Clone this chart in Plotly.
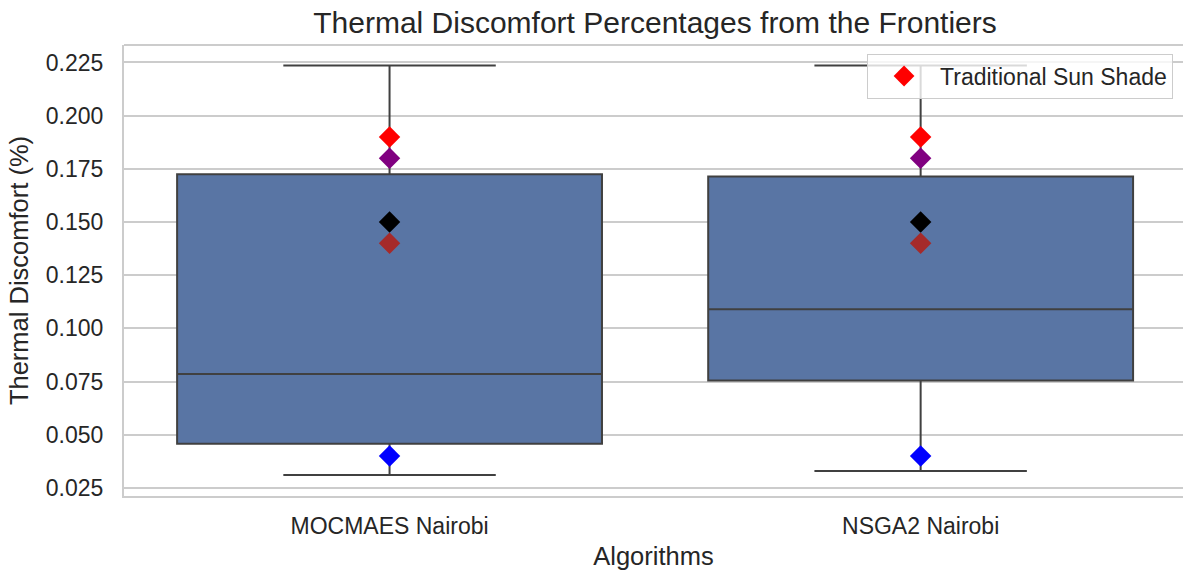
import plotly.graph_objects as go

categories = ["MOCMAES Nairobi", "NSGA2 Nairobi"]
q1 = [0.0458, 0.0755]
median = [0.0785, 0.1090]
q3 = [0.1725, 0.1714]
lower_fence = [0.0311, 0.0330]
upper_fence = [0.2236, 0.2236]

marker_names = ["Traditional Sun Shade", "Solution B", "Solution C", "Solution D", "Solution E"]
marker_values = [0.19, 0.18, 0.15, 0.14, 0.04]
marker_colors = ["red", "purple", "black", "brown", "blue"]
marker_in_legend = [True, False, False, False, False]

y_ticks = [0.025, 0.05, 0.075, 0.1, 0.125, 0.15, 0.175, 0.2, 0.225]

fig = go.Figure()
for i, cat in enumerate(categories):
    fig.add_trace(go.Box(
        x=[cat], q1=[q1[i]], median=[median[i]], q3=[q3[i]],
        lowerfence=[lower_fence[i]], upperfence=[upper_fence[i]],
        fillcolor="#5975a4", line=dict(color="#404040", width=2),
        width=0.8, whiskerwidth=0.5, boxpoints=False, showlegend=False,
        hoverinfo="skip",
    ))

for name, val, col, leg in zip(marker_names, marker_values, marker_colors, marker_in_legend):
    fig.add_trace(go.Scatter(
        x=categories, y=[val] * len(categories), mode="markers",
        marker=dict(symbol="diamond", size=16.5, color=col, line=dict(width=0)),
        name=name, showlegend=leg,
    ))

font_family = "Liberation Sans, Arial, sans-serif"
fig.update_layout(
    width=1183, height=574,
    margin=dict(l=124, r=0, t=45, b=78),
    paper_bgcolor="white", plot_bgcolor="white",
    font=dict(family=font_family, color="#262626", size=23),
    title=dict(text="Thermal Discomfort Percentages from the Frontiers",
               x=(124 + 1186) / 2 / 1183, xanchor="center", y=1 - 22 / 574, yanchor="middle",
               font=dict(size=30, color="#262626")),
    xaxis=dict(
        type="category", range=[-0.5, 1.494],
        title=dict(text="Algorithms", font=dict(size=25.5), standoff=10),
        showgrid=False, showline=True, linecolor="#cccccc", linewidth=2, mirror=False,
        ticks="", tickfont=dict(size=23), ticklabelstandoff=8,
    ),
    yaxis=dict(
        range=[0.0212, 0.2332], tickvals=y_ticks, tickformat=".3f",
        title=dict(text="Thermal Discomfort (%)", font=dict(size=25.5), standoff=10),
        showgrid=True, gridcolor="#cccccc", gridwidth=1.5,
        showline=True, linecolor="#cccccc", linewidth=2, mirror=False,
        zeroline=False, ticks="", tickfont=dict(size=23), ticklabelstandoff=14,
    ),
    legend=dict(
        x=0.9906, xanchor="right", y=0.981, yanchor="top",
        bgcolor="rgba(255,255,255,0.8)", bordercolor="#cccccc", borderwidth=1,
        font=dict(size=23), itemwidth=62,
    ),
    shapes=[dict(type="line", xref="paper", yref="paper", x0=0, x1=1, y0=1, y1=1,
                 line=dict(color="#cccccc", width=2), layer="below")],
)

fig.write_html(
    "out.html", config={"displayModeBar": False},
    post_script=("document.body.style.margin='0';"
                 "document.body.style.overflow='hidden';"
                 "document.documentElement.style.overflow='hidden';"),
)
